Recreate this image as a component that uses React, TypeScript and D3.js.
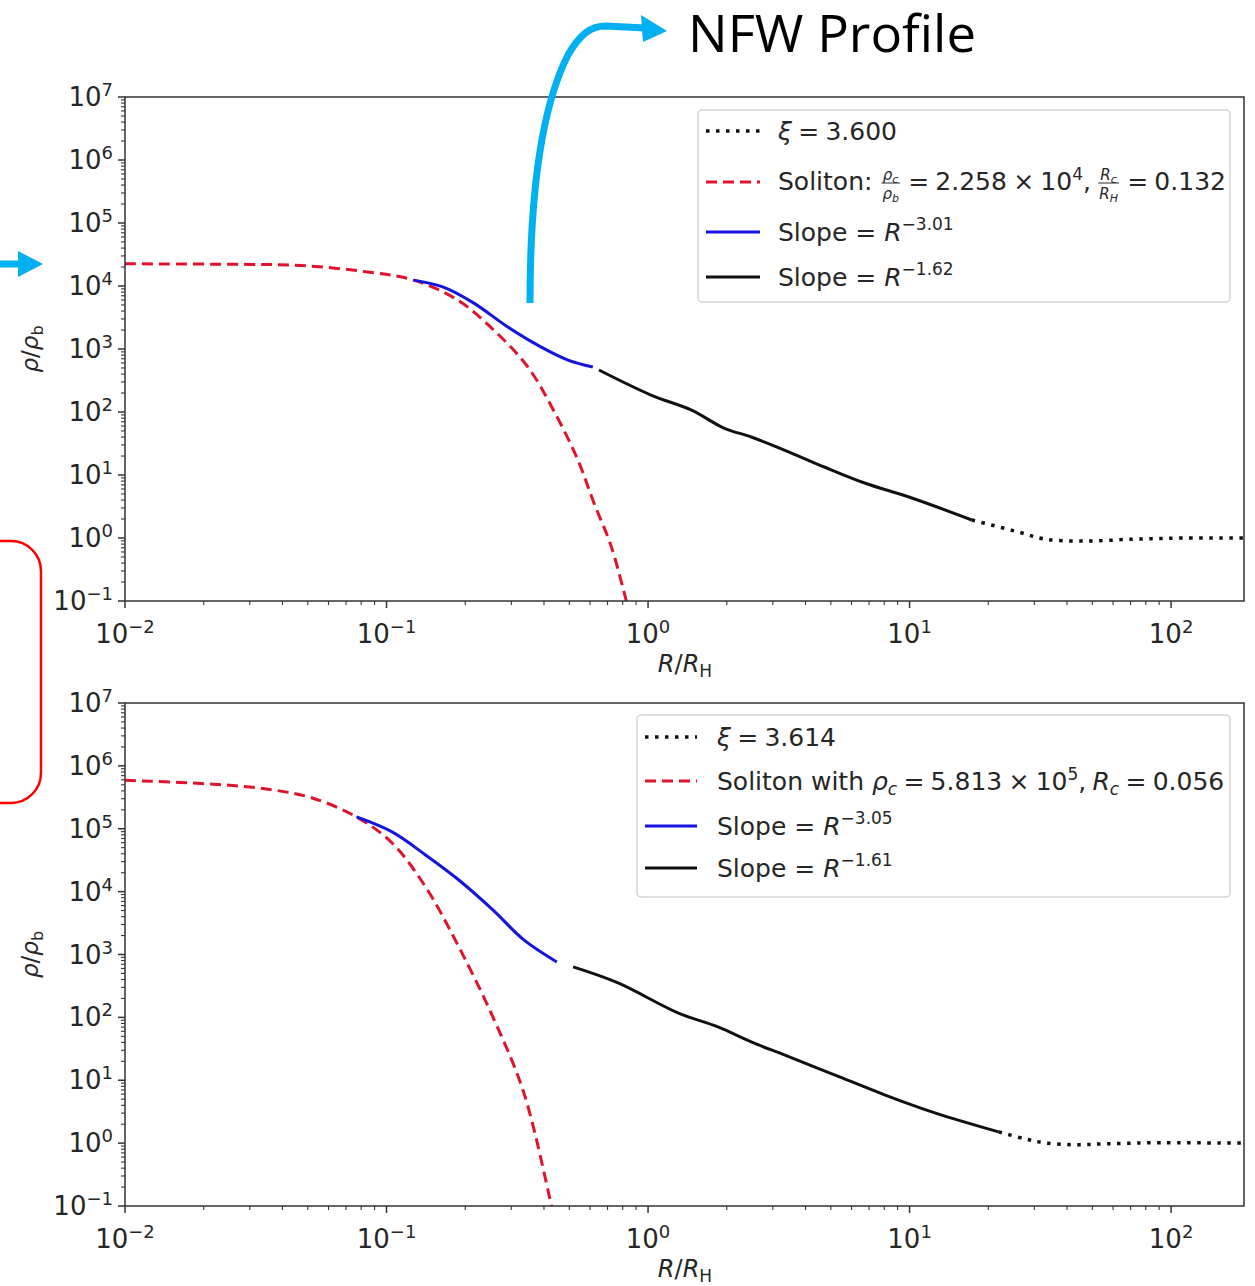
import { useEffect, useRef } from "react";
import * as d3 from "d3";

type Pt = [number, number];

// R/R_H vs rho/rho_b
const topSoliton: Pt[] = [[0.01, 2.25e4], [0.03, 2.2e4], [0.047, 2.12e4], [0.0845, 1.67e4], [0.127, 1.24e4], [0.187, 6.0e3], [0.257, 2.0e3], [0.347, 518], [0.436, 105], [0.54, 17], [0.621, 3.6], [0.722, 0.75], [0.824, 0.104], [0.883, 0.035]];
const topBlue: Pt[] = [[0.127, 1.24e4], [0.165, 9.6e3], [0.215, 5.4e3], [0.291, 2.23e3], [0.389, 1.08e3], [0.494, 668], [0.615, 518]];
const topBlack: Pt[] = [[0.649, 464], [1.026, 186], [1.46, 108], [1.95, 55.7], [2.48, 40.1], [3.32, 24.9], [4.72, 13.4], [6.73, 7.46], [10.2, 4.31], [17.3, 1.93]];
const topXi: Pt[] = [[17.3, 1.93], [26.2, 1.24], [32.9, 0.96], [46.8, 0.895], [72.8, 0.96], [113, 1.0], [192, 1.0]];

const botSoliton: Pt[] = [[0.01, 5.9e5], [0.0242, 4.97e5], [0.0369, 4.14e5], [0.052, 3.09e5], [0.0768, 1.54e5], [0.105, 5.94e4], [0.141, 1.19e4], [0.189, 1.32e3], [0.255, 102], [0.335, 6.3], [0.425, 0.112], [0.44, 0.06]];
const botBlue: Pt[] = [[0.0768, 1.54e5], [0.105, 8.9e4], [0.141, 3.83e4], [0.189, 1.53e4], [0.255, 5.12e3], [0.335, 1.71e3], [0.448, 762]];
const botBlack: Pt[] = [[0.517, 635], [0.768, 353], [1.3, 118], [1.85, 70.6], [2.48, 40.7], [3.32, 25.3], [5.16, 12.2], [8.02, 5.87], [12.5, 3.03], [21.9, 1.51]];
const botXi: Pt[] = [[21.9, 1.51], [27.6, 1.17], [32.9, 1.01], [42.9, 0.94], [55.8, 0.975], [82.4, 1.01], [192, 1.0]];

const xDomain = [0.01, 190];
const yDomain = [0.1, 1e7];
const xMajor = [-2, -1, 0, 1, 2];
const yMajor = [-1, 0, 1, 2, 3, 4, 5, 6, 7];

const FONT = "DejaVu Sans, sans-serif";
const RED = "#e0122c";
const BLUE = "#1414e0";
const ARROW = "#00b0f0";
const MS = "\u2005"; // math space

type Span = { t: string; it?: boolean; sz?: number; off?: number };

function spansInto(text: any, spans: Span[]) {
  let cur = 0;
  spans.forEach(s => {
    const off = s.off ?? 0;
    text.append("tspan")
      .attr("dy", off - cur)
      .attr("font-style", s.it ? "italic" : null)
      .attr("font-size", s.sz ?? null)
      .text(s.t);
    cur = off;
  });
}

function addText(g: any, x: number, y: number, spans: Span[], size: number, anchor = "start") {
  const text = g.append("text")
    .attr("x", x).attr("y", y)
    .attr("text-anchor", anchor)
    .attr("font-family", FONT)
    .attr("font-size", size)
    .attr("fill", "#262626")
    .style("white-space", "pre");
  spansInto(text, spans);
  return text;
}

// a row of text pieces and small fractions, laid out left to right
type Piece = { spans?: Span[]; num?: Span[]; den?: Span[] };
function richRow(g: any, x: number, y: number, pieces: Piece[], size: number) {
  const grp = g.append("g").attr("transform", `translate(${x},${y})`);
  let cx = 0;
  pieces.forEach(p => {
    if (p.spans) {
      const t = addText(grp, cx, 0, p.spans, size);
      cx += t.node().getComputedTextLength();
    } else if (p.num && p.den) {
      const fs = size * 0.6;
      const n = addText(grp, 0, -10, p.num, fs, "middle");
      const d = addText(grp, 0, 9, p.den, fs, "middle");
      const w = Math.max(n.node().getComputedTextLength(), d.node().getComputedTextLength()) + 2;
      n.attr("x", cx + w / 2 + 1);
      d.attr("x", cx + w / 2 + 1);
      grp.append("line").attr("x1", cx + 1).attr("x2", cx + w + 1).attr("y1", -7).attr("y2", -7)
        .attr("stroke", "#262626").attr("stroke-width", 1);
      cx += w + 3;
    }
  });
}

type Series = { data: Pt[]; color: string; width: number; dash: string | null };

function drawPanel(svg: any, top: number, bottom: number, series: Series[], id: string) {
  const left = 125, right = 1244;
  const x = d3.scaleLog().domain(xDomain).range([left, right]);
  const y = d3.scaleLog().domain(yDomain).range([bottom, top]);
  const g = svg.append("g");

  g.append("clipPath").attr("id", id).append("rect")
    .attr("x", left).attr("y", top).attr("width", right - left).attr("height", bottom - top);

  const line = d3.line<Pt>().x(d => x(d[0])).y(d => y(d[1])).curve(d3.curveCatmullRom.alpha(0.5));
  const lines = g.append("g").attr("clip-path", `url(#${id})`);
  series.forEach(s => {
    lines.append("path").datum(s.data)
      .attr("fill", "none").attr("stroke", s.color).attr("stroke-width", s.width)
      .attr("stroke-dasharray", s.dash).attr("d", line);
  });

  // frame
  g.append("rect").attr("x", left).attr("y", top).attr("width", right - left).attr("height", bottom - top)
    .attr("fill", "none").attr("stroke", "#333").attr("stroke-width", 1.5);

  // x ticks
  xMajor.forEach(e => {
    for (let k = 1; k <= 9; k++) {
      const v = k * Math.pow(10, e);
      if (v < xDomain[0] || v > xDomain[1]) continue;
      const len = k === 1 ? 7 : 4;
      g.append("line").attr("x1", x(v)).attr("x2", x(v)).attr("y1", bottom).attr("y2", bottom + len)
        .attr("stroke", "#333").attr("stroke-width", k === 1 ? 1.5 : 1.1);
    }
    addText(g, x(Math.pow(10, e)), bottom + 42,
      [{ t: "10" }, { t: e < 0 ? "\u2212" + -e : String(e), sz: 18, off: -10 }], 26, "middle");
  });

  // y ticks
  yMajor.forEach(e => {
    for (let k = 1; k <= 9; k++) {
      const v = k * Math.pow(10, e);
      if (v < yDomain[0] || v > yDomain[1]) continue;
      const len = k === 1 ? 7 : 4;
      g.append("line").attr("x1", left - len).attr("x2", left).attr("y1", y(v)).attr("y2", y(v))
        .attr("stroke", "#333").attr("stroke-width", k === 1 ? 1.5 : 1.1);
    }
    addText(g, 113, y(Math.pow(10, e)) + 9,
      [{ t: "10" }, { t: e < 0 ? "\u2212" + -e : String(e), sz: 18, off: -10 }], 26, "end");
  });

  // axis labels
  addText(g, 685, bottom + 71,
    [{ t: "R", it: true }, { t: "/" }, { t: "R", it: true }, { t: "H", sz: 17, off: 5 }], 24, "middle");
  const yl = svg.append("g").attr("transform", `translate(38,${(top + bottom) / 2}) rotate(-90)`);
  const yt = yl.append("text").attr("text-anchor", "middle").attr("font-family", FONT)
    .attr("font-size", 23).attr("fill", "#262626");
  yt.append("tspan").attr("font-style", "italic").text("\u03c1");
  yt.append("tspan").text("/");
  yt.append("tspan").attr("font-style", "italic").text("\u03c1");
  yt.append("tspan").attr("font-size", 16).attr("dy", 5).text("b");
  return g;
}

function legendBox(svg: any, x0: number, y0: number, x1: number, y1: number) {
  svg.append("rect").attr("x", x0).attr("y", y0).attr("width", x1 - x0).attr("height", y1 - y0)
    .attr("rx", 4).attr("fill", "white").attr("fill-opacity", 0.9)
    .attr("stroke", "#d4d4d4").attr("stroke-width", 1.5);
}

function handle(svg: any, x0: number, x1: number, yy: number, s: Series) {
  svg.append("line").attr("x1", x0).attr("x2", x1).attr("y1", yy).attr("y2", yy)
    .attr("stroke", s.color).attr("stroke-width", s.width).attr("stroke-dasharray", s.dash);
}

export default function App() {
  const svgRef = useRef<SVGSVGElement>(null);

  useEffect(() => {
    if (!svgRef.current) return;
    document.body.style.margin = "0";
    const svg = d3.select(svgRef.current);
    svg.selectAll("*").remove();

    const dotted = (data: Pt[]): Series => ({ data, color: "#111", width: 3.5, dash: "3.5 6.5" });
    const dashed = (data: Pt[]): Series => ({ data, color: RED, width: 3, dash: "11 6" });
    const solid = (data: Pt[], color: string): Series => ({ data, color, width: 3, dash: null });

    const topSeries = [dotted(topXi), dashed(topSoliton), solid(topBlue, BLUE), solid(topBlack, "#111")];
    const botSeries = [dotted(botXi), dashed(botSoliton), solid(botBlue, BLUE), solid(botBlack, "#111")];

    drawPanel(svg, 97, 601, topSeries, "clipTop");
    drawPanel(svg, 703, 1206, botSeries, "clipBot");

    const FS = 25;
    const SUP = 17;

    // top legend
    legendBox(svg, 698, 110, 1230, 302);
    const tRows = [131, 182, 232, 277];
    topSeries.forEach((s, i) => handle(svg, 706, 760, tRows[i], s));
    richRow(svg, 778, tRows[0] + 9, [{ spans: [{ t: "\u03be", it: true }, { t: `${MS}=${MS}3.600` }] }], FS);
    richRow(svg, 778, tRows[1] + 8, [
      { spans: [{ t: "Soliton: " }] },
      { num: [{ t: "\u03c1", it: true }, { t: "c", it: true, sz: 11, off: 3 }], den: [{ t: "\u03c1", it: true }, { t: "b", it: true, sz: 11, off: 3 }] },
      { spans: [{ t: `${MS}=${MS}2.258${MS}\u00d7${MS}10` }, { t: "4", sz: SUP, off: -10 }, { t: `,${MS}`, off: 0 }] },
      { num: [{ t: "R", it: true }, { t: "c", it: true, sz: 11, off: 3 }], den: [{ t: "R", it: true }, { t: "H", it: true, sz: 11, off: 3 }] },
      { spans: [{ t: `${MS}=${MS}0.132` }] },
    ], FS);
    richRow(svg, 778, tRows[2] + 9, [{ spans: [{ t: "Slope = " }, { t: "R", it: true }, { t: "\u22123.01", sz: SUP, off: -11 }] }], FS);
    richRow(svg, 778, tRows[3] + 9, [{ spans: [{ t: "Slope = " }, { t: "R", it: true }, { t: "\u22121.62", sz: SUP, off: -11 }] }], FS);

    // bottom legend
    legendBox(svg, 637, 715, 1230, 897);
    const bRows = [737, 781, 826, 868];
    botSeries.forEach((s, i) => handle(svg, 645, 697, bRows[i], s));
    richRow(svg, 717, bRows[0] + 9, [{ spans: [{ t: "\u03be", it: true }, { t: `${MS}=${MS}3.614` }] }], FS);
    richRow(svg, 717, bRows[1] + 9, [{ spans: [
      { t: "Soliton with " }, { t: "\u03c1", it: true }, { t: "c", it: true, sz: SUP, off: 5 },
      { t: `${MS}=${MS}5.813${MS}\u00d7${MS}10`, off: 0 }, { t: "5", sz: SUP, off: -10 }, { t: `,${MS}`, off: 0 },
      { t: "R", it: true }, { t: "c", it: true, sz: SUP, off: 5 }, { t: `${MS}=${MS}0.056`, off: 0 },
    ] }], FS);
    richRow(svg, 717, bRows[2] + 9, [{ spans: [{ t: "Slope = " }, { t: "R", it: true }, { t: "\u22123.05", sz: SUP, off: -11 }] }], FS);
    richRow(svg, 717, bRows[3] + 9, [{ spans: [{ t: "Slope = " }, { t: "R", it: true }, { t: "\u22121.61", sz: SUP, off: -11 }] }], FS);

    // annotations
    const ann = svg.append("g");
    ann.append("path")
      .attr("d", "M530,303 C530,200 540,110 568,55 C580,34 591,26 606,26 L645,28")
      .attr("fill", "none").attr("stroke", ARROW).attr("stroke-width", 7);
    ann.append("polygon").attr("points", "641,15 667,31 643,42").attr("fill", ARROW);
    ann.append("text").attr("x", 688).attr("y", 52)
      .attr("font-family", "Open Sans, Noto Sans, sans-serif").attr("font-size", 52)
      .attr("textLength", 288).attr("lengthAdjust", "spacingAndGlyphs")
      .attr("fill", "#000").text("NFW Profile");

    ann.append("line").attr("x1", 0).attr("x2", 22).attr("y1", 264).attr("y2", 264)
      .attr("stroke", ARROW).attr("stroke-width", 7);
    ann.append("polygon").attr("points", "18,251 43,264 18,277").attr("fill", ARROW);

    ann.append("path")
      .attr("d", "M-10,541 H11 A30,30 0 0 1 41,571 V773 A30,30 0 0 1 11,803 H-10")
      .attr("fill", "none").attr("stroke", "#ff0000").attr("stroke-width", 2.5);
  }, []);

  return <svg ref={svgRef} width={1255} height={1286} style={{ display: "block", background: "white" }} />;
}
